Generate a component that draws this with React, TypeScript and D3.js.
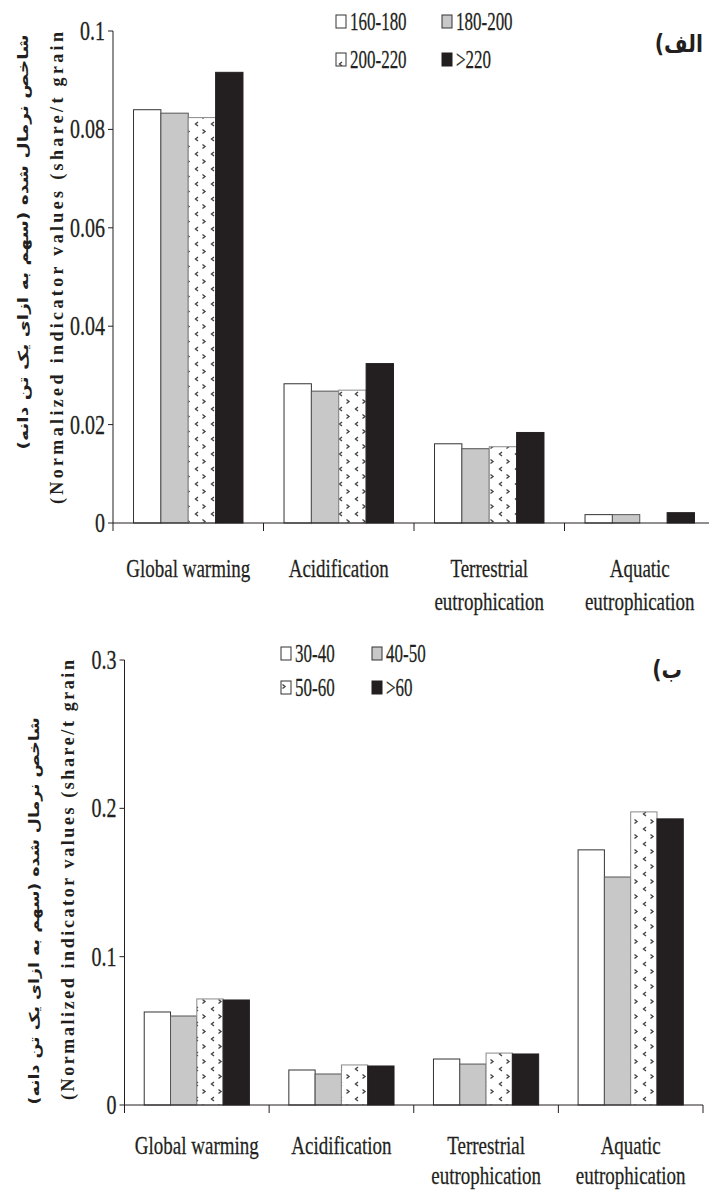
import * as d3 from 'd3';

// categories shared by both panels
const categoryLines = [
  ['Global warming'],
  ['Acidification'],
  ['Terrestrial', 'eutrophication'],
  ['Aquatic', 'eutrophication'],
];
const categories = categoryLines.map(l => l.join(' '));

// panel (الف): grain yield classes
const seriesA = ['160-180', '180-200', '200-220', '>220'];
const valuesA = [
  [0.084, 0.0283, 0.0161, 0.0017],
  [0.0833, 0.0268, 0.0151, 0.0017],
  [0.0824, 0.027, 0.0155, 0],
  [0.0916, 0.0324, 0.0184, 0.0021],
];
const ticksA = [0, 0.02, 0.04, 0.06, 0.08, 0.1];
const tickLabelsA = ['0', '0.02', '0.04', '0.06', '0.08', '0.1'];

// panel (ب)
const seriesB = ['30-40', '40-50', '50-60', '>60'];
const valuesB = [
  [0.0627, 0.0236, 0.031, 0.172],
  [0.06, 0.0209, 0.0276, 0.1537],
  [0.0715, 0.027, 0.035, 0.1976],
  [0.0708, 0.0263, 0.0344, 0.1929],
];
const ticksB = [0, 0.1, 0.2, 0.3];
const tickLabelsB = ['0', '0.1', '0.2', '0.3'];

const yLabelEn = '(Normalized indicator values (share/t grain';
const yLabelFa = 'شاخص نرمال شده (سهم به ازای یک تن دانه)';

const INK = '#231f20';
const fills = ['#ffffff', '#c8c8c8', 'url(#chev)', INK];
const strokes = ['#333333', '#555555', '#8a8a8a', INK];
const SERIF = '"Liberation Serif", "Times New Roman", serif';
const PERSIAN = '"DejaVu Sans", sans-serif';

interface PanelProps {
  series: string[];
  values: number[][];
  ticks: number[];
  tickLabels: string[];
  max: number;
  left: number;
  right: number;
  axisEnd: number;
  top: number;
  bottom: number;
  labelY: [number, number];
  legendX: [number, number];
  legendY: [number, number];
  tag: string;
  tagX: number;
  tagY: number;
  en: { x: number; y: number; len: number };
  fa: { x: number; y: number; len: number };
}

function Panel(p: PanelProps) {
  const x = d3.scaleBand().domain(categories).range([p.left, p.right]).padding(0);
  const inner = d3
    .scaleBand()
    .domain(p.series)
    .range([0, x.bandwidth()])
    .paddingInner(0)
    .paddingOuter(0.75);
  const y = d3.scaleLinear().domain([0, p.max]).range([p.bottom, p.top]);
  const bounds = categories.map(c => x(c) as number).concat([p.right]);

  return (
    <g>
      {/* bars */}
      {p.series.map((s, si) =>
        categories.map((c, ci) => {
          const v = p.values[si][ci];
          if (!v) return null;
          return (
            <rect
              key={s + c}
              x={(x(c) as number) + (inner(s) as number)}
              y={y(v)}
              width={inner.bandwidth()}
              height={p.bottom - y(v)}
              fill={fills[si]}
              stroke={strokes[si]}
              strokeWidth={1}
            />
          );
        })
      )}

      {/* y axis */}
      <line x1={p.left} x2={p.left} y1={p.top} y2={p.bottom} stroke={INK} strokeWidth={1} />
      {p.ticks.map((t, i) => (
        <g key={t}>
          <line x1={p.left - 5} x2={p.left} y1={y(t)} y2={y(t)} stroke={INK} strokeWidth={1} />
          <text
            transform={`translate(${p.left - 8},${y(t) + 9}) scale(0.74,1)`}
            textAnchor="end"
            fontFamily={SERIF}
            fontSize={27}
            fill={INK}
            stroke={INK}
            strokeWidth={0.3}
          >
            {p.tickLabels[i]}
          </text>
        </g>
      ))}

      {/* x axis */}
      <line x1={p.left} x2={p.axisEnd} y1={p.bottom} y2={p.bottom} stroke={INK} strokeWidth={1} />
      {bounds.map((b, i) => (
        <line key={i} x1={b} x2={b} y1={p.bottom} y2={p.bottom + 8} stroke={INK} strokeWidth={1} />
      ))}
      {categoryLines.map((lines, ci) =>
        lines.map((ln, li) => (
          <text
            key={ci + '-' + li}
            transform={`translate(${(x(categories[ci]) as number) + x.bandwidth() / 2},${p.labelY[li]}) scale(0.76,1)`}
            textAnchor="middle"
            fontFamily={SERIF}
            fontSize={25}
            fill={INK}
            stroke={INK}
            strokeWidth={0.25}
          >
            {ln}
          </text>
        ))
      )}

      {/* legend */}
      {p.series.map((s, si) => {
        const lx = p.legendX[si % 2];
        const ly = p.legendY[Math.floor(si / 2)];
        return (
          <g key={s}>
            <rect x={lx} y={ly - 15} width={10} height={13} fill={fills[si]} stroke={si === 3 ? INK : '#333'} strokeWidth={1} />
            <text
              transform={`translate(${lx + 14},${ly}) scale(0.68,1)`}
              fontFamily={SERIF}
              fontSize={25}
              fill={INK}
              stroke={INK}
              strokeWidth={0.25}
            >
              {s}
            </text>
          </g>
        );
      })}

      {/* panel tag */}
      <text
        transform={`translate(${p.tagX},${p.tagY}) scale(0.85,1)`}
        textAnchor="end"
        fontFamily={PERSIAN}
        fontWeight="bold"
        fontSize={24}
        fill={INK}
      >
        {p.tag}
      </text>

      {/* y labels */}
      <text
        transform={`translate(${p.en.x},${p.en.y}) rotate(-90)`}
        textAnchor="middle"
        dominantBaseline="central"
        fontFamily={SERIF}
        fontWeight="bold"
        fontSize={18}
        textLength={p.en.len}
        lengthAdjust="spacing"
        fill={INK}
      >
        {yLabelEn}
      </text>
      <text
        transform={`translate(${p.fa.x},${p.fa.y}) rotate(-90)`}
        textAnchor="middle"
        dominantBaseline="central"
        direction="rtl"
        fontFamily={PERSIAN}
        fontWeight="bold"
        fontSize={14}
        textLength={p.fa.len}
        lengthAdjust="spacingAndGlyphs"
        fill={INK}
      >
        {yLabelFa}
      </text>
    </g>
  );
}

export default function App() {
  return (
    <svg
      width={709}
      height={1191}
      style={{ position: 'absolute', left: 0, top: 0, background: '#fff' }}
    >
      <defs>
        <pattern id="chev" patternUnits="userSpaceOnUse" width={16} height={15}>
          <rect width={16} height={15} fill="#fff" />
          <path d="M6,2 L3.5,4 L6,6" fill="none" stroke="#444" strokeWidth={1.4} />
          <path d="M10.5,9.5 L13,11.5 L10.5,13.5" fill="none" stroke="#444" strokeWidth={1.4} />
        </pattern>
      </defs>
      <Panel
        series={seriesA}
        values={valuesA}
        ticks={ticksA}
        tickLabels={tickLabelsA}
        max={0.1}
        left={113}
        right={715}
        axisEnd={709}
        top={31}
        bottom={523}
        labelY={[577, 610]}
        legendX={[336, 442]}
        legendY={[30, 68]}
        tag="(الف"
        tagX={703}
        tagY={52}
        en={{ x: 57, y: 268, len: 472 }}
        fa={{ x: 23, y: 242, len: 415 }}
      />
      <Panel
        series={seriesB}
        values={valuesB}
        ticks={ticksB}
        tickLabels={tickLabelsB}
        max={0.3}
        left={124.5}
        right={703}
        axisEnd={703}
        top={660}
        bottom={1105}
        labelY={[1154, 1184]}
        legendX={[281, 372]}
        legendY={[662, 696]}
        tag="(ب"
        tagX={682}
        tagY={678}
        en={{ x: 68, y: 880, len: 440 }}
        fa={{ x: 34, y: 911, len: 387 }}
      />
    </svg>
  );
}
